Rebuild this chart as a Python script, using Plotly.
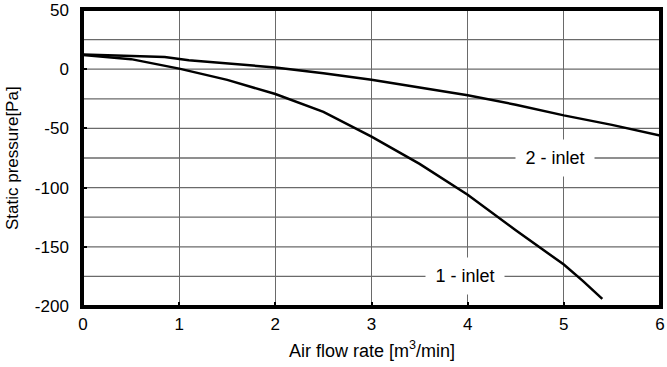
import plotly.graph_objects as go

x_two = [0, 0.5, 0.85, 1.1, 1.5, 2, 2.5, 3, 3.5, 4, 4.5, 5, 5.5, 6]
y_two = [12.5, 11.5, 10.3, 7.5, 5, 1.5, -3.5, -9, -15.5, -22, -30, -39, -47, -56]

x_one = [0, 0.5, 1, 1.5, 2, 2.5, 3, 3.5, 4, 4.5, 5, 5.2, 5.4]
y_one = [12, 8.5, 0.5, -9, -21, -36, -57, -80, -106, -136, -165, -179, -194]

label_text = ["2 - inlet", "1 - inlet"]
label_x = [4.91, 3.97]
label_y = [-75, -175]

x_ticks = [0, 1, 2, 3, 4, 5, 6]
y_ticks = [-200, -150, -100, -50, 0, 50]
y_tick_text = ["-200", "-150", "-100", "-50", "0", "50"]

x_title = "Air flow rate [m<sup>3</sup>/min]"
y_title = "Static pressure[Pa]"

FONT = "Arial"
FS = 17

fig = go.Figure()
for xs, ys in [(x_two, y_two), (x_one, y_one)]:
    fig.add_trace(go.Scatter(x=xs, y=ys, mode="lines", line=dict(color="black", width=2.5),
                             showlegend=False, hoverinfo="skip"))

for t, lx, ly in zip(label_text, label_x, label_y):
    fig.add_annotation(x=lx, y=ly, text=t, showarrow=False, bgcolor="white", width=76, height=34,
                       font=dict(family=FONT, size=18, color="black"))

fig.add_annotation(xref="paper", yref="paper", x=0.5, y=0, yshift=-43, yanchor="middle",
                   text=x_title, showarrow=False, font=dict(family=FONT, size=18, color="black"))
fig.add_annotation(xref="paper", yref="paper", x=0, y=0.5, xshift=-71, xanchor="center",
                   yanchor="middle", textangle=-90,
                   text=y_title, showarrow=False, font=dict(family=FONT, size=FS, color="black"))

fig.update_layout(
    width=667, height=367,
    margin=dict(l=83, r=7, t=10, b=61),
    paper_bgcolor="white", plot_bgcolor="white",
    font=dict(family=FONT, size=FS, color="black"),
    xaxis=dict(range=[0, 6], tickvals=x_ticks, showgrid=True, gridcolor="#6a6a6a", gridwidth=1.3,
               zeroline=False, showline=True, linecolor="black", linewidth=2.5, mirror=True,
               ticks="inside", ticklen=4, tickcolor="black", tickwidth=2, automargin=False,
               tickfont=dict(size=FS), ticklabelstandoff=1),
    yaxis=dict(range=[-200, 50], tickvals=y_ticks, ticktext=y_tick_text, showgrid=False,
               zeroline=False, showline=True, linecolor="black", linewidth=2.5, mirror=True,
               ticks="inside", ticklen=4, tickcolor="black", tickwidth=2, automargin=False,
               tickfont=dict(size=FS), ticklabelstandoff=8),
)

for v in range(-175, 50, 25):
    fig.add_hline(y=v, line=dict(color="#6a6a6a", width=1.3), layer="below")

# frame around the plotting area
fig.add_shape(type="rect", xref="paper", yref="paper", x0=0, x1=1, y0=0, y1=1,
              line=dict(color="black", width=2), layer="above")

fig.write_html("out.html", config={"displayModeBar": False},
               post_script="document.body.style.margin='0';document.body.style.overflow='hidden';")
